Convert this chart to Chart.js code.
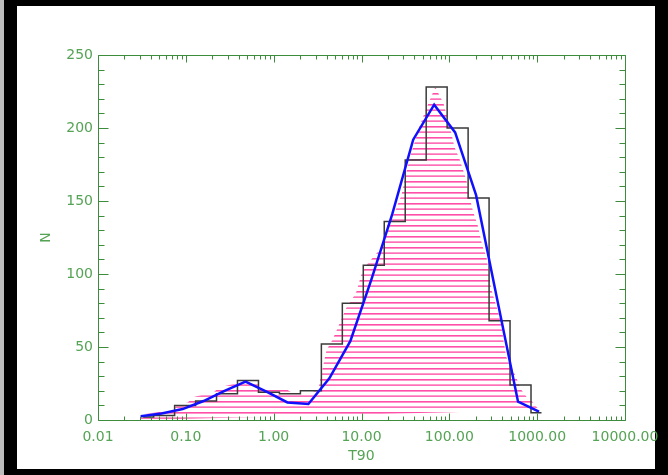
<!DOCTYPE html>
<html>
<head>
<meta charset="utf-8">
<title>T90 distribution</title>
<script src="https://cdn.jsdelivr.net/npm/chart.js@4.4.1/dist/chart.umd.min.js"></script>
<style>
  html, body { margin: 0; padding: 0; background: #000; }
  #wrap { position: absolute; left: 0; top: 0; width: 668px; height: 475px; }
</style>
</head>
<body>
<div id="wrap"><canvas id="t90Chart" width="668" height="475"></canvas></div>
<script>
// axis ticks
const yTickValues = [0, 50, 100, 150, 200, 250];
const xTickValues = [0.01, 0.1, 1, 10, 100, 1000, 10000];
const xTickLabels = ['0.01', '0.10', '1.00', '10.00', '100.00', '1000.00', '10000.00'];

// bin centres (s) used by the blue curve
const binT90 = [0.0306, 0.0530, 0.0919, 0.159, 0.276, 0.478, 0.828, 1.434, 2.485, 4.305,
                7.458, 12.92, 22.39, 38.78, 67.20, 116.4, 201.7, 349.4, 605.4, 1049];
// the black histogram sits a little to the right of the blue curve
const histT90 = [0.0327, 0.0566, 0.0981, 0.170, 0.294, 0.510, 0.884, 1.531, 2.653, 4.596,
                 7.963, 13.79, 23.91, 41.41, 71.75, 124.3, 215.4, 373.1, 646.4, 1120];
const histCounts = [2, 3, 10, 13, 18, 27, 19, 18, 20, 52, 80, 106, 136, 178, 228, 200, 152, 68, 24, 5];
const fitCounts = [2.5, 4.4, 7.5, 13, 20, 26.3, 19.5, 12, 11, 28.5, 54, 96, 141, 192, 216, 197, 154, 83, 12.5, 5.7];

// outline of the pink hatched area
const hatchT90 = [0.0298, 0.0323, 0.0504, 0.0726, 0.0786, 0.1048, 0.1259, 0.2072, 0.2424, 0.3686,
                  0.4094, 0.6388, 0.7096, 0.8088, 1.439, 1.641, 2.699, 3.243, 3.507, 3.998,
                  4.677, 5.619, 6.751, 7.695, 8.772, 10.0, 11.70, 14.81, 18.27, 19.76,
                  23.73, 28.52, 31.67, 35.16, 41.15, 46.91, 57.83, 65.94, 69.49, 73.21,
                  85.68, 100.3, 114.3, 130.3, 156.5, 173.8, 188.0, 208.8, 238.1, 264.3,
                  301.3, 343.5, 391.4, 412.6, 446.2, 550.5, 661.3, 773.6, 881.9, 979.3, 1059];
const hatchCounts = [0, 4, 5.5, 7, 10, 12, 16, 19, 22.5, 25,
                     26.5, 26.5, 21.5, 20.5, 20.5, 18.5, 18.5, 22, 32, 48,
                     55, 66, 77, 82, 88, 100, 107, 114, 122, 134,
                     142, 154, 167, 179, 192, 203, 217, 225, 228, 225,
                     217, 202, 187, 179, 164, 150, 142, 134, 119, 112,
                     89, 78, 66, 55, 43, 32, 20.5, 15, 12.5, 9, 6.9];

const axisGreen = '#3c8c3c';
const labelGreen = '#55a355';
const labelFont = { family: 'DejaVu Sans', size: 14 };

function toPoints(xs, ys) {
    return xs.map((x, i) => ({ x: x, y: ys[i] }));
}

// horizontal line hatching, like IDL's line fill
function makeHatch(ctx) {
    const c = document.createElement('canvas');
    c.width = 8;
    c.height = 11;
    const g = c.getContext('2d');
    g.fillStyle = '#ff4fa8';
    g.fillRect(0, 5, 8, 1);
    g.fillStyle = '#ff92c8';
    g.fillRect(0, 6, 8, 1);
    g.fillStyle = '#ff6fb7';
    g.fillRect(0, 0, 8, 1);
    g.fillStyle = '#ff9acc';
    g.fillRect(0, 10, 8, 1);
    return ctx.createPattern(c, 'repeat');
}

// black page border, box axes and inward ticks
const framePlugin = {
    id: 'framePlugin',
    beforeDraw(chart) {
        const ctx = chart.ctx;
        ctx.save();
        ctx.fillStyle = '#000';
        ctx.fillRect(0, 0, chart.width, chart.height);
        ctx.fillStyle = '#bdbdbd';
        ctx.fillRect(0, 0, 4, chart.height);
        ctx.fillStyle = '#fff';
        ctx.fillRect(17, 6, 638, 463);
        ctx.restore();
    },
    afterDraw(chart) {
        const { ctx, chartArea: a, scales: { x, y } } = chart;
        const L = a.left + 0.5, R = a.right + 0.5, T = a.top + 0.5, B = a.bottom + 0.5;
        ctx.save();
        ctx.strokeStyle = axisGreen;
        ctx.lineWidth = 1;
        ctx.beginPath();
        ctx.rect(L, T, R - L, B - T);
        // y ticks, every 10, long ones on the labels
        for (let v = 0; v <= 250; v += 10) {
            const py = Math.round(y.getPixelForValue(v)) + 0.5;
            const len = yTickValues.includes(v) ? 10 : 6;
            ctx.moveTo(L, py); ctx.lineTo(L + len, py);
            ctx.moveTo(R, py); ctx.lineTo(R - len, py);
        }
        // x ticks, decades plus 2..9
        for (let d = 0; d < xTickValues.length; d++) {
            for (let m = 1; m <= 9; m++) {
                const v = xTickValues[d] * m;
                if (v > 10000) break;
                const px = Math.round(x.getPixelForValue(v)) + 0.5;
                const len = m === 1 ? 7 : 4;
                ctx.moveTo(px, B); ctx.lineTo(px, B - len);
                ctx.moveTo(px, T); ctx.lineTo(px, T + len);
            }
        }
        ctx.stroke();
        ctx.restore();
    }
};

const canvas = document.getElementById('t90Chart');
const ctx = canvas.getContext('2d');

new Chart(ctx, {
    type: 'line',
    data: {
        datasets: [{
            label: 'fit',
            data: toPoints(binT90, fitCounts),
            borderColor: '#1010ff',
            borderWidth: 2.5,
            pointRadius: 0,
            tension: 0,
            fill: false,
            order: 1
        }, {
            label: 'histogram',
            data: toPoints(histT90, histCounts),
            borderColor: '#3a3a3a',
            borderWidth: 1.5,
            pointRadius: 0,
            stepped: 'middle',
            fill: false,
            order: 2
        }, {
            label: 'hatched',
            data: toPoints(hatchT90, hatchCounts),
            borderColor: 'rgba(0,0,0,0)',
            borderWidth: 1,
            backgroundColor: makeHatch(ctx),
            pointRadius: 0,
            tension: 0,
            fill: 'shape',
            order: 3
        }]
    },
    options: {
        responsive: false,
        animation: false,
        devicePixelRatio: 1,
        layout: { padding: { left: 0, top: 55, right: 43, bottom: 0 } },
        plugins: {
            legend: { display: false },
            tooltip: { enabled: false }
        },
        scales: {
            x: {
                type: 'logarithmic',
                min: 0.01,
                max: 10000,
                afterFit: s => { s.height = 55; },
                afterBuildTicks: s => { s.ticks = xTickValues.map(v => ({ value: v })); },
                grid: { display: false, drawTicks: false },
                border: { display: false },
                ticks: {
                    autoSkip: false,
                    maxRotation: 0,
                    padding: 9,
                    color: labelGreen,
                    font: labelFont,
                    callback: (v, i) => xTickLabels[i]
                },
                title: {
                    display: true,
                    text: 'T90',
                    color: labelGreen,
                    font: labelFont,
                    padding: { top: 0, bottom: 10.6 }
                }
            },
            y: {
                min: 0,
                max: 250,
                afterFit: s => { s.width = 98; },
                afterBuildTicks: s => { s.ticks = yTickValues.map(v => ({ value: v })); },
                grid: { display: false, drawTicks: false },
                border: { display: false },
                ticks: {
                    padding: 5,
                    color: labelGreen,
                    font: labelFont
                },
                title: {
                    display: true,
                    text: 'N',
                    color: labelGreen,
                    font: labelFont,
                    padding: { top: 37.6, bottom: 0 }
                }
            }
        }
    },
    plugins: [framePlugin]
});
</script>
</body>
</html>
